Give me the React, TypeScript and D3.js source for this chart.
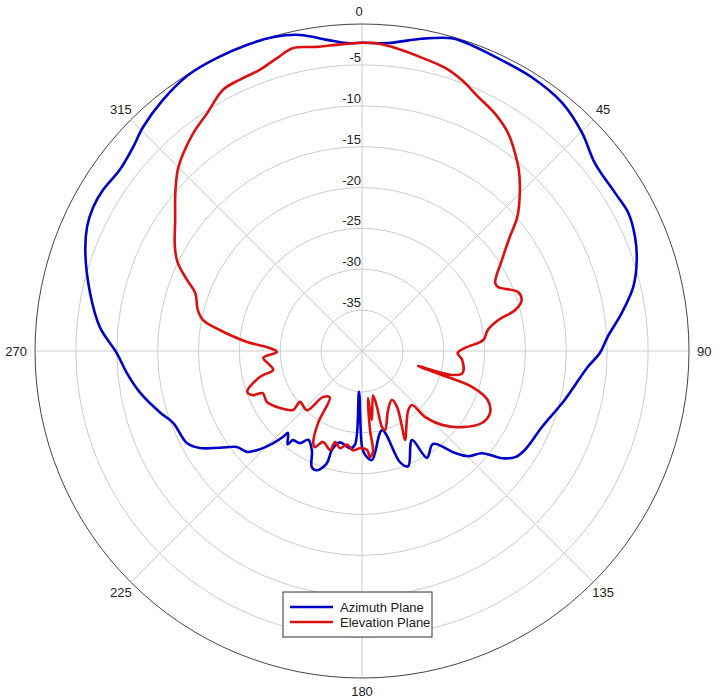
import * as d3 from "d3";

// polar pattern, dB vs angle (deg, clockwise from top)
const ringLevels = [-5, -10, -15, -20, -25, -30, -35];
const angleTicks = [0, 45, 90, 135, 180, 225, 270, 315];

const azAngles = [0, 4.8, 10.9, 16.0, 18.4, 24.3, 31.8, 38.9, 45.3, 51.1, 58.0, 62.6, 67.3, 71.7, 76.7, 81.7, 86.7, 90.5, 94.0, 103.6, 112.9, 121.3, 124.7, 127.4, 130.4, 134.7, 137.6, 142.6, 148.7, 150.7, 158.2, 161.1, 165.8, 174.8, 178.3, 180.0, 184.2, 184.3, 187.1, 190.3, 193.6, 196.9, 197.4, 200.7, 203.3, 206.8, 211.2, 214.0, 217.8, 218.5, 222.1, 222.6, 224.0, 226.7, 228.7, 232.5, 235.7, 239.1, 242.3, 249.1, 253.0, 259.3, 264.7, 269.5, 275.2, 282.0, 289.5, 294.3, 298.2, 301.9, 306.8, 311.7, 315.6, 321.6, 327.8, 333.7, 339.5, 344.3, 348.9, 353.6, 357.2];
const azDb = [-2.3, -2.2, -1.1, -0.2, -0.2, -0.5, -0.6, -1.0, -2.1, -3.4, -3.5, -3.3, -3.8, -4.6, -5.9, -7.9, -9.9, -10.9, -12.3, -14.5, -16.1, -16.7, -17.2, -18.4, -20.7, -21.7, -23.1, -25.7, -24.7, -27.5, -24.8, -25.6, -30.0, -26.6, -27.3, -28.3, -35.0, -28.5, -28.0, -28.3, -28.5, -27.4, -25.6, -24.4, -24.5, -26.4, -27.3, -26.4, -26.2, -25.4, -26.5, -25.7, -24.3, -22.3, -21.3, -20.7, -19.0, -16.9, -15.8, -15.3, -14.2, -12.4, -11.1, -10.0, -7.8, -6.0, -4.1, -3.1, -2.7, -2.7, -3.0, -2.5, -1.7, -0.8, -0.1, 0, 0, -0.1, -0.6, -1.7, -2.3];

const elAngles = [0, 2.4, 6.2, 11.6, 16.3, 20.3, 24.5, 29.2, 33.8, 37.7, 40.9, 45.0, 49.2, 52.4, 57.0, 62.9, 64.8, 69.3, 72.3, 75.0, 77.2, 80.5, 84.8, 88.3, 91.2, 95.1, 102.3, 104.8, 105.0, 106.7, 108.1, 111.3, 115.8, 121.0, 127.2, 132.8, 136.3, 137.2, 142.1, 154.2, 152.2, 148.0, 148.5, 156.2, 163.8, 165.3, 165.0, 166.0, 171.8, 172.3, 172.7, 174.2, 173.8, 175.7, 177.1, 181.2, 185.2, 189.1, 192.8, 196.5, 197.9, 203.2, 206.1, 208.0, 211.4, 214.8, 220.3, 223.0, 230.6, 229.5, 235.2, 241.8, 247.0, 248.0, 250.4, 255.7, 258.0, 261.3, 266.0, 269.3, 271.9, 274.5, 278.4, 281.0, 284.0, 289.2, 292.1, 295.6, 299.1, 305.0, 310.2, 314.5, 317.9, 322.2, 326.9, 332.0, 335.8, 340.0, 343.8, 347.2, 351.6, 355.9];
const elDb = [-2.3, -2.3, -2.7, -3.4, -3.9, -4.7, -5.8, -6.7, -7.9, -9.4, -10.7, -12.7, -14.9, -17.2, -19.6, -21.7, -21.6, -19.6, -19.5, -20.6, -22.9, -24.4, -25.1, -27.4, -28.3, -27.7, -27.4, -28.5, -32.9, -29.8, -25.8, -23.5, -22.6, -22.9, -24.6, -26.7, -28.8, -31.0, -30.8, -27.9, -29.5, -31.9, -33.0, -32.1, -29.9, -30.4, -32.9, -34.4, -31.5, -32.7, -34.2, -30.3, -27.6, -27.0, -27.9, -28.1, -27.8, -28.4, -27.8, -28.4, -27.3, -27.9, -26.9, -27.3, -29.7, -33.1, -32.6, -30.1, -30.2, -28.9, -27.8, -26.8, -26.8, -25.6, -25.1, -27.1, -28.9, -28.6, -27.9, -29.6, -28.7, -25.9, -22.4, -20.2, -19.3, -18.4, -16.9, -15.0, -13.8, -12.1, -10.1, -8.4, -7.4, -6.3, -5.3, -3.8, -3.6, -3.4, -2.7, -2.0, -2.4, -2.4];

const series = [
  { name: "Azimuth Plane", color: "#0000c8", angles: azAngles, db: azDb },
  { name: "Elevation Plane", color: "#dd1010", angles: elAngles, db: elDb },
];

export default function App() {
  const width = 724;
  const height = 700;
  const cx = 362;
  const cy = 351;
  const R = 327;

  const r = d3.scaleLinear().domain([-40, 0]).range([0, R]);
  const rad = (deg: number) => (deg * Math.PI) / 180;

  const line = d3
    .lineRadial<[number, number]>()
    .angle((d) => rad(d[0]))
    .radius((d) => r(d[1]))
    .curve(d3.curveCatmullRomClosed.alpha(0.5));

  const font = "Arial, 'Liberation Sans', sans-serif";

  return (
    <svg
      width={width}
      height={height}
      style={{ position: "absolute", left: 0, top: 0, background: "#fff" }}
    >
      <g transform={`translate(${cx},${cy})`}>
        {ringLevels.map((v) => (
          <circle key={v} r={r(v)} fill="none" stroke="#cccccc" strokeWidth={1} />
        ))}
        {angleTicks.map((a) => (
          <line
            key={a}
            x1={0}
            y1={0}
            x2={R * Math.sin(rad(a))}
            y2={-R * Math.cos(rad(a))}
            stroke="#cccccc"
            strokeWidth={1}
          />
        ))}
        <circle r={R} fill="none" stroke="#444" strokeWidth={1} />

        {ringLevels.map((v) => (
          <text
            key={v}
            x={-1}
            y={-r(v) - 3}
            textAnchor="end"
            fontFamily={font}
            fontSize={13}
            fill="#222"
          >
            {v}
          </text>
        ))}

        {angleTicks.map((a) => {
          const off = a % 90 === 0 ? 8 : 14;
          const x = (R + off) * Math.sin(rad(a));
          const y = -(R + off) * Math.cos(rad(a));
          let anchor: "start" | "middle" | "end" = "middle";
          if (a === 90) anchor = "start";
          if (a === 270) anchor = "end";
          let dy = "0.35em";
          if (a === 0) dy = "0em";
          if (a === 180) dy = "0.8em";
          return (
            <text
              key={a}
              x={a === 0 ? x - 3 : x}
              y={y}
              dy={dy}
              textAnchor={anchor}
              fontFamily={font}
              fontSize={13}
              fill="#222"
            >
              {a}
            </text>
          );
        })}

        {series.map((s) => (
          <path
            key={s.name}
            d={line(s.angles.map((a, i) => [a, s.db[i]] as [number, number])) || ""}
            fill="none"
            stroke={s.color}
            strokeWidth={2.6}
            strokeLinejoin="round"
          />
        ))}
      </g>

      <g transform="translate(283,592)">
        <rect width={149} height={45} fill="#fff" stroke="#333" strokeWidth={1} />
        {series.map((s, i) => (
          <g key={s.name} transform={`translate(0,${15 + i * 15})`}>
            <line x1={7} x2={50} y1={0} y2={0} stroke={s.color} strokeWidth={2.6} />
            <text x={57} y={0} dy="0.35em" fontFamily={font} fontSize={13} fill="#222">
              {s.name}
            </text>
          </g>
        ))}
      </g>
    </svg>
  );
}
